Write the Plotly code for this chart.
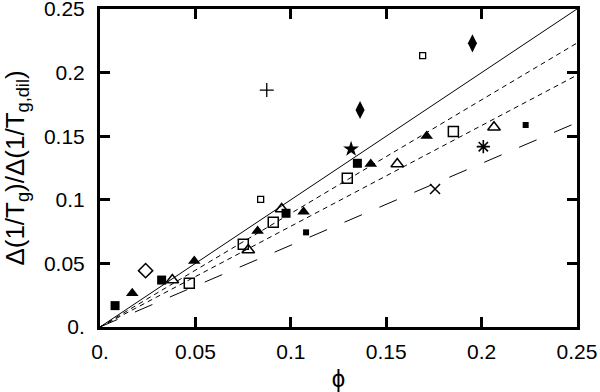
import plotly.graph_objects as go

# data
fsq_big_x = [0.0079, 0.0323, 0.0975, 0.1349]
fsq_big_y = [0.0168, 0.0369, 0.0894, 0.1287]
fsq_small_x = [0.108, 0.2231]
fsq_small_y = [0.0744, 0.1588]
ftri_x = [0.0169, 0.0494, 0.0826, 0.1067, 0.1419, 0.1712]
ftri_y = [0.0265, 0.0519, 0.0755, 0.0907, 0.1281, 0.1502]
otri_x = [0.0379, 0.0777, 0.0952, 0.1558, 0.2065]
otri_y = [0.0369, 0.0605, 0.0928, 0.1281, 0.157]
osq_big_x = [0.0468, 0.0751, 0.0908, 0.1296, 0.1852]
osq_big_y = [0.0343, 0.065, 0.0823, 0.1169, 0.1536]
osq_small_x = [0.0842, 0.1691]
osq_small_y = [0.1004, 0.2133]
odia_x = [0.0239]
odia_y = [0.0443]
fdia_x = [0.1363, 0.1952]
fdia_y = [0.1706, 0.223]
star_x = [0.1316]
star_y = [0.1399]
plus_x = [0.0874]
plus_y = [0.1863]
xx_x = [0.1756]
xx_y = [0.1085]
ast_x = [0.2009]
ast_y = [0.1418]

line_x = [0.0, 0.25]
slopes = [1.0, 0.893, 0.792, 0.643]
line_dash = ["solid", "5px,4px", "5px,4px", "19px,19px"]

tick_vals = [0, 0.05, 0.1, 0.15, 0.2, 0.25]
tick_text = ["0.", "0.05", "0.1", "0.15", "0.2", "0.25"]

fig = go.Figure()
for s, d in zip(slopes, line_dash):
    fig.add_trace(go.Scatter(x=line_x, y=[v * s for v in line_x], mode="lines",
                             line=dict(color="black", width=1, dash=d)))

def pts(x, y, sym, size, lw=1.5):
    fig.add_trace(go.Scatter(x=x, y=y, mode="markers",
                             marker=dict(symbol=sym, size=size, color="black",
                                         line=dict(color="black", width=lw))))

pts(fsq_big_x, fsq_big_y, "square", 9, 0)
pts(fsq_small_x, fsq_small_y, "square", 6, 0)
pts(ftri_x, ftri_y, "triangle-up", 11, 0)
pts(otri_x, otri_y, "triangle-up-open", 11, 1.5)
pts(osq_big_x, osq_big_y, "square-open", 10, 1.5)
pts(osq_small_x, osq_small_y, "square-open", 6, 1.3)
pts(odia_x, odia_y, "diamond-open", 11, 1.5)
pts(fdia_x, fdia_y, "diamond-tall", 13, 0)
pts(star_x, star_y, "star", 12, 0)
pts(plus_x, plus_y, "cross-thin-open", 10, 1.3)
pts(xx_x, xx_y, "x-thin-open", 10, 1.5)
pts(ast_x, ast_y, "asterisk-open", 11, 1.6)

FONT = "Liberation Sans, Arial"
axis_common = dict(range=[0, 0.25], tickvals=tick_vals, ticktext=tick_text,
                   ticks="inside", ticklen=10, tickwidth=3, tickcolor="black",
                   showline=True, linewidth=3, linecolor="black", mirror="ticks",
                   showgrid=False, zeroline=False, automargin=False,
                   ticklabeloverflow="allow",
                   tickfont=dict(family=FONT, size=21, color="black"))

fig.update_layout(
    width=600, height=392,
    margin=dict(l=100, r=23, t=9, b=65),
    plot_bgcolor="white", paper_bgcolor="white",
    showlegend=False,
    xaxis=dict(**axis_common, ticklabelstandoff=4,
               title=dict(text="ϕ", font=dict(family=FONT, size=24, color="black"))),
    yaxis=dict(**axis_common, ticklabelstandoff=8,
               title=dict(text="Δ(1/T<sub>g</sub>)/Δ(1/T<sub>g,dil</sub>)",
                          font=dict(family=FONT, size=26, color="black"))),
)

fig.write_html("out.html", config={"displayModeBar": False},
               post_script="document.body.style.margin='0px';")
